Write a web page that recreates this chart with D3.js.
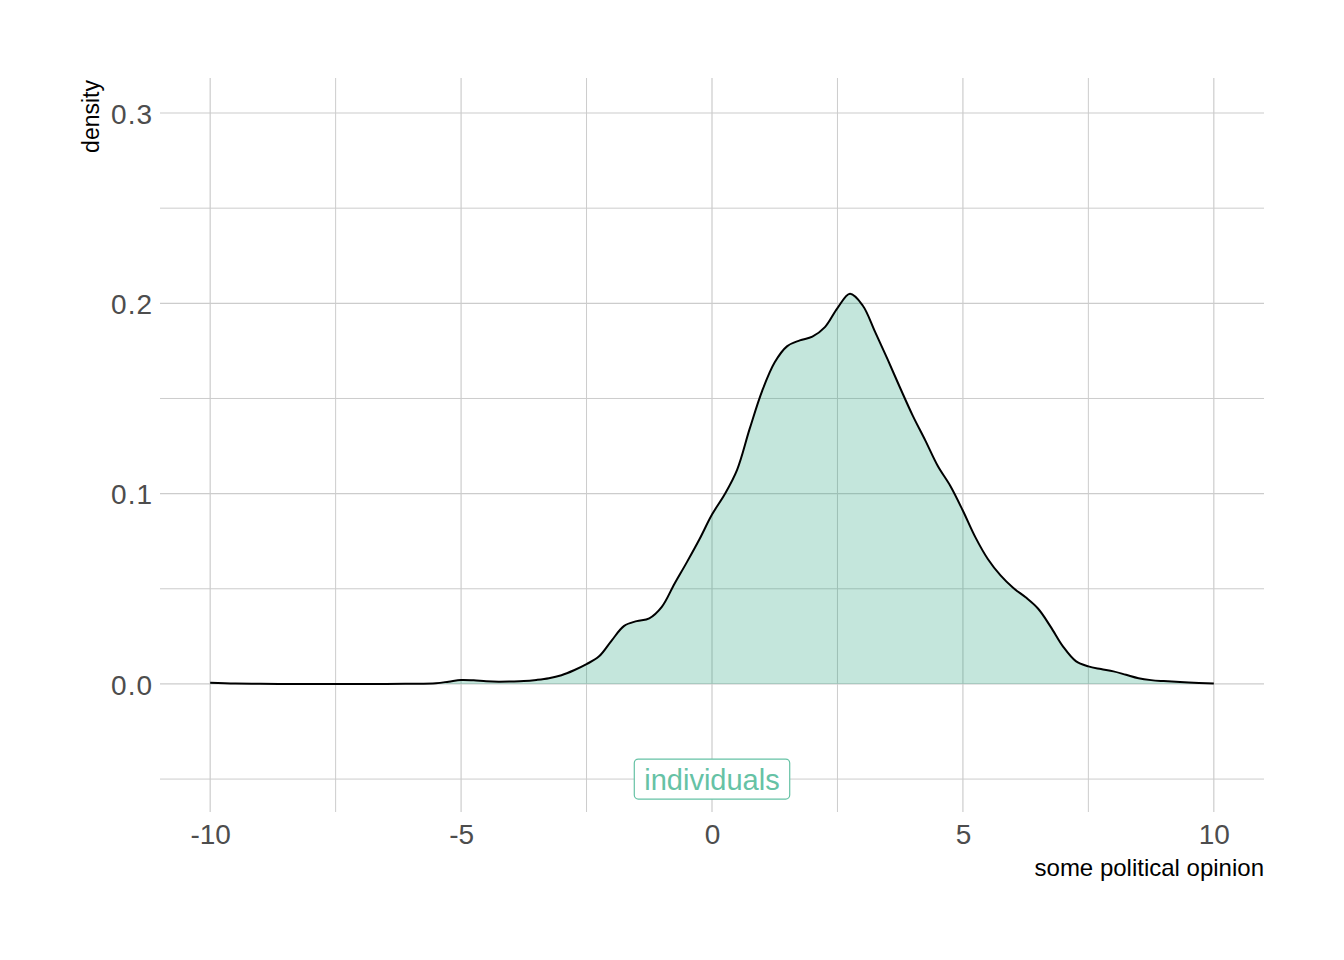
<!DOCTYPE html>
<html>
<head>
<meta charset="utf-8">
<script src="https://cdn.jsdelivr.net/npm/d3@7"></script>
<style>
  html, body { margin: 0; padding: 0; background: #ffffff; }
  svg { display: block; }
</style>
</head>
<body>
<svg id="chart" width="1344" height="960"></svg>
<script>
// ---- data ----
const opinionX = [-10,-9.5,-9,-8.5,-8,-7.5,-7,-6.5,-6,-5.5,-5.25,-5,-4.75,-4.5,-4.25,-4,-3.75,-3.5,-3.25,-3,-2.75,-2.5,-2.25,-2,-1.75,-1.5,-1.25,-1,-0.75,-0.5,-0.25,0,0.25,0.5,0.75,1,1.25,1.5,1.75,2,2.25,2.5,2.75,3,3.25,3.5,3.75,4,4.25,4.5,4.75,5,5.25,5.5,5.75,6,6.25,6.5,6.75,7,7.25,7.5,7.75,8,8.25,8.5,8.75,9,9.5,10];
const densityY = [0.0006,0.0002,0.0001,0.0,0.0,0.0,0.0,0.0,0.0001,0.0004,0.0012,0.0021,0.0019,0.0014,0.0012,0.0013,0.0015,0.0021,0.0030,0.0046,0.0072,0.0104,0.0145,0.0228,0.0305,0.0330,0.0345,0.0405,0.0525,0.0640,0.0760,0.0890,0.0995,0.1125,0.1340,0.1540,0.1690,0.1775,0.1805,0.1825,0.1875,0.1975,0.2050,0.1990,0.1850,0.1705,0.1555,0.1410,0.1280,0.1145,0.1040,0.0910,0.0770,0.0655,0.0570,0.0505,0.0455,0.0395,0.0300,0.0195,0.0120,0.0092,0.0078,0.0066,0.0048,0.0030,0.0020,0.0015,0.0008,0.0002];
const xTicks = [-10,-5,0,5,10];
const xTickLabels = ["-10","-5","0","5","10"];
const xMinor = [-7.5,-2.5,2.5,7.5];
const yTicks = [0.0,0.1,0.2,0.3];
const yTickLabels = ["0.0","0.1","0.2","0.3"];
const yMinor = [-0.05,0.05,0.15,0.25];
const groupLabel = "individuals";
const groupLabelPos = [0, -0.05];
const xTitle = "some political opinion";
const yTitle = "density";

// ---- layout ----
const svg = d3.select("#chart");
const L = 160, R = 1264, T = 78, B = 812;
const x = d3.scaleLinear().domain([-11, 11]).range([L, R]);
const y = d3.scaleLinear().domain([-0.0673, 0.3184]).range([B, T]);
const font = "'Liberation Sans', Arial, sans-serif";
const gridColor = "#cccccc";

// grid
const g = svg.append("g");
g.selectAll(".xmin").data(xMinor).join("line")
  .attr("x1", d => x(d)).attr("x2", d => x(d)).attr("y1", T).attr("y2", B)
  .attr("stroke", gridColor).attr("stroke-width", 1);
g.selectAll(".ymin").data(yMinor).join("line")
  .attr("x1", L).attr("x2", R).attr("y1", d => y(d)).attr("y2", d => y(d))
  .attr("stroke", gridColor).attr("stroke-width", 1);
g.selectAll(".xmaj").data(xTicks).join("line")
  .attr("x1", d => x(d)).attr("x2", d => x(d)).attr("y1", T).attr("y2", B)
  .attr("stroke", gridColor).attr("stroke-width", 1.2);
g.selectAll(".ymaj").data(yTicks).join("line")
  .attr("x1", L).attr("x2", R).attr("y1", d => y(d)).attr("y2", d => y(d))
  .attr("stroke", gridColor).attr("stroke-width", 1.2);

// density
const pts = opinionX.map((v, i) => [v, densityY[i]]);
const area = d3.area().x(d => x(d[0])).y0(y(0)).y1(d => y(d[1])).curve(d3.curveCatmullRom.alpha(0.5));
const line = d3.line().x(d => x(d[0])).y(d => y(d[1])).curve(d3.curveCatmullRom.alpha(0.5));
svg.append("path").datum(pts).attr("d", area).attr("fill", "#1b9e77").attr("fill-opacity", 0.26);
svg.append("path").datum(pts).attr("d", line).attr("fill", "none").attr("stroke", "#000").attr("stroke-width", 2);

// axes (text only)
const xAxis = d3.axisBottom(x).tickValues(xTicks).tickSize(0).tickPadding(0)
  .tickFormat((d, i) => xTickLabels[i]);
const xa = svg.append("g").attr("transform", `translate(0,${B})`).call(xAxis);
xa.select(".domain").remove();
xa.selectAll("text").attr("dy", null).attr("y", 32).attr("font-family", font)
  .attr("font-size", 28).attr("fill", "#4d4d4d");

const yAxis = d3.axisLeft(y).tickValues(yTicks).tickSize(0).tickPadding(0)
  .tickFormat((d, i) => yTickLabels[i]);
const ya = svg.append("g").attr("transform", `translate(153,0)`).call(yAxis);
ya.select(".domain").remove();
ya.selectAll("text").attr("dy", "0.36em").attr("font-family", font)
  .attr("font-size", 28).attr("letter-spacing", 1).attr("fill", "#4d4d4d");

// titles
svg.append("text").attr("x", R).attr("y", 876).attr("text-anchor", "end")
  .attr("font-family", font).attr("font-size", 24).attr("fill", "#000").text(xTitle);
svg.append("text").attr("transform", `translate(99,${T + 2}) rotate(-90)`).attr("text-anchor", "end")
  .attr("font-family", font).attr("font-size", 23).attr("fill", "#000").text(yTitle);

// label
const lab = svg.append("g");
const lt = lab.append("text").attr("x", x(groupLabelPos[0])).attr("y", y(groupLabelPos[1]))
  .attr("dy", "0.36em").attr("text-anchor", "middle")
  .attr("font-family", font).attr("font-size", 29).attr("fill", "#66c2a5").text(groupLabel);
const bb = lt.node().getBBox();
lab.insert("rect", "text").attr("x", bb.x - 10).attr("y", y(groupLabelPos[1]) - 20)
  .attr("width", bb.width + 20).attr("height", 40).attr("rx", 4)
  .attr("fill", "#fff").attr("stroke", "#66c2a5").attr("stroke-width", 1.2);
</script>
</body>
</html>
